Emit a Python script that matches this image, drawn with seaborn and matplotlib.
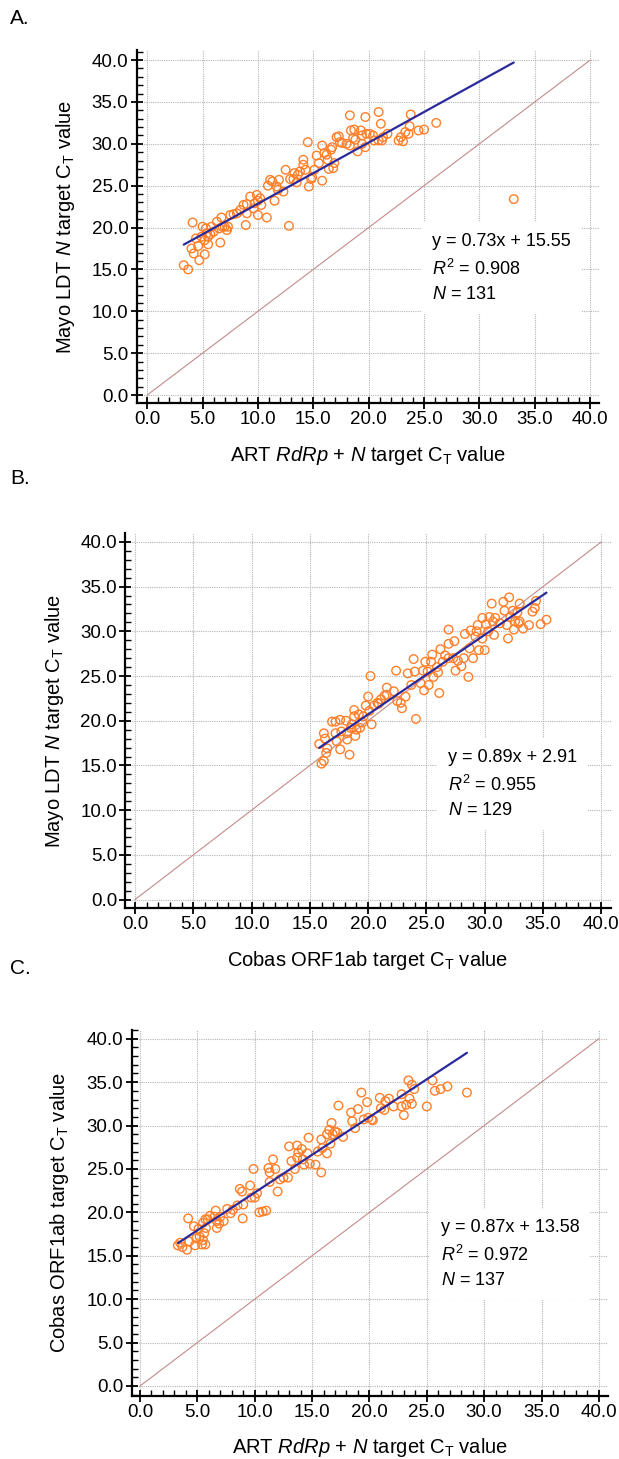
import numpy as np
import pandas as pd
import seaborn as sns
import matplotlib.pyplot as plt
from matplotlib.ticker import MultipleLocator, FormatStrFormatter

# ---- data (x, y pairs) ----
art_a = [3.3, 3.7, 4.1, 4.0, 4.2, 4.6, 4.7, 5.0, 5.2, 5.3, 5.4, 5.5, 5.2, 5.7, 5.8, 6.3, 6.5, 6.6, 6.7, 6.8,
         7.2, 7.3, 7.5, 7.8, 8.4, 8.7, 8.9, 9.0, 9.3, 9.6, 9.9, 10.0, 10.0, 10.3, 10.8, 10.9, 11.1, 11.3, 11.5, 11.7,
         11.9, 12.3, 12.5, 12.8, 12.9, 13.3, 13.5, 13.8, 14.1, 14.1, 14.3, 14.5, 14.6, 14.8, 15.1, 15.3, 15.8, 15.8, 16.0, 16.3,
         16.4, 16.6, 16.7, 16.8, 17.1, 17.3, 17.6, 18.3, 18.3, 18.4, 18.7, 18.6, 19.0, 19.3, 19.4, 19.7, 19.7, 19.8, 20.1, 20.4,
         20.9, 21.1, 20.9, 21.3, 21.7, 22.7, 23.8, 23.7, 23.6, 23.3, 23.1, 22.9, 24.5, 25.0, 26.1, 33.1,
         4.4, 4.9, 5.5, 6.0, 7.0, 8.1, 9.0, 9.7, 10.2, 11.8, 13.2, 13.6, 14.9, 15.5, 16.2, 16.9, 17.4, 18.0, 18.8, 19.4,
         20.5, 21.2]
mayo_a = [15.5, 15.0, 20.6, 17.5, 16.9, 17.8, 16.1, 20.1, 18.5, 19.9, 19.3, 18.0, 16.8, 19.2, 20.1, 20.7, 19.9, 18.2, 21.2, 20.1,
          19.7, 20.1, 21.5, 21.6, 22.1, 22.7, 20.3, 21.7, 23.7, 22.3, 23.9, 21.5, 23.2, 22.7, 21.2, 25.0, 25.7, 25.5, 23.2, 24.9,
          25.7, 24.3, 26.9, 20.2, 25.8, 26.5, 25.4, 26.7, 28.1, 27.5, 26.9, 30.2, 24.9, 25.8, 26.9, 28.6, 29.8, 25.6, 28.9, 28.1,
          27.0, 29.3, 29.6, 27.1, 30.8, 30.9, 30.1, 33.4, 29.8, 31.6, 31.7, 30.7, 29.1, 31.6, 31.0, 33.2, 29.6, 31.2, 31.2, 31.0,
          33.8, 32.4, 30.4, 30.8, 31.2, 30.4, 33.5, 32.1, 31.2, 31.4, 30.3, 30.8, 31.6, 31.7, 32.5, 23.4,
          18.7, 18.9, 18.9, 19.5, 20.1, 21.7, 22.8, 22.9, 23.5, 24.5, 25.8, 26.3, 26.0, 27.7, 28.7, 27.7, 30.2, 30.0, 30.5, 30.0,
          30.4, 30.4]

cobas_b = [15.8, 16.0, 16.2, 16.2, 16.3, 16.5, 16.9, 17.2, 17.2, 17.3, 17.6, 17.6, 18.1, 18.2, 18.4, 18.2, 18.6, 18.8, 18.8, 18.9,
           19.0, 19.2, 19.3, 19.5, 19.8, 20.0, 20.1, 20.2, 20.3, 20.5, 20.8, 21.1, 21.6, 21.6, 22.2, 22.4, 22.5, 22.8, 22.9, 23.2,
           23.4, 23.9, 24.0, 24.1, 24.5, 24.7, 24.8, 24.9, 25.2, 25.4, 25.5, 25.6, 26.0, 26.1, 26.2, 26.4, 26.9, 26.9, 26.9, 27.4,
           27.5, 27.7, 28.0, 28.2, 28.3, 28.6, 28.7, 28.8, 29.0, 29.2, 29.4, 29.5, 29.8, 29.8, 30.0, 30.1, 30.4, 30.6, 30.7, 30.8,
           30.9, 31.3, 31.6, 31.7, 31.9, 32.0, 32.1, 32.2, 32.5, 32.6, 32.9, 33.0, 33.0, 33.3, 33.8, 34.1, 34.3, 34.4, 34.8, 35.3,
           16.4, 17.7, 18.5, 19.6, 20.9, 21.4, 23.7, 25.1, 25.9, 26.6, 27.3, 29.3, 30.3, 32.4, 32.8]
mayo_b = [17.4, 15.2, 15.5, 18.6, 18.0, 16.9, 19.9, 19.9, 18.6, 17.7, 20.1, 16.8, 20.0, 17.9, 16.2, 18.6, 19.6, 21.2, 20.5, 18.3,
          19.0, 20.7, 19.2, 19.8, 21.7, 22.7, 21.1, 25.0, 19.6, 21.7, 22.0, 22.4, 23.7, 22.9, 23.3, 25.6, 22.2, 22.0, 21.4, 22.7,
          25.3, 26.9, 25.5, 20.2, 24.2, 25.6, 23.4, 26.6, 24.0, 26.6, 27.4, 24.9, 25.4, 23.1, 28.0, 26.6, 28.6, 30.2, 27.0, 28.9,
          25.6, 26.7, 26.1, 27.0, 29.7, 24.9, 28.1, 30.1, 27.0, 29.4, 30.7, 27.9, 31.5, 29.2, 27.9, 30.8, 31.6, 33.1, 31.1, 29.6,
          31.5, 30.9, 33.3, 32.3, 30.7, 29.2, 33.8, 31.6, 30.2, 31.1, 30.9, 33.1, 31.1, 30.3, 30.7, 32.2, 32.6, 33.4, 30.8, 31.3,
          16.4, 18.8, 19.2, 20.5, 21.9, 22.8, 24.0, 25.5, 26.0, 27.3, 27.0, 30.0, 30.0, 32.3, 32.1]

art_c = [3.3, 3.7, 4.1, 4.2, 4.3, 4.7, 4.8, 4.9, 5.1, 5.4, 5.5, 5.6, 5.5, 5.7, 5.9, 5.75, 5.7, 6.6, 6.7, 6.7,
         6.9, 7.3, 7.6, 7.9, 8.5, 8.7, 8.9, 9.0, 8.95, 9.6, 9.7, 9.9, 10.0, 10.2, 10.4, 10.7, 11.0, 11.2, 11.3, 11.3,
         11.6, 11.8, 12.0, 12.2, 12.5, 12.9, 13.0, 13.2, 13.5, 13.7, 13.7, 13.8, 14.1, 14.2, 14.3, 14.6, 14.7, 14.8, 15.3, 15.5,
         15.8, 15.8, 15.9, 16.3, 16.3, 16.5, 16.6, 16.7, 16.8, 17.0, 17.2, 17.3, 17.7, 18.4, 18.5, 18.75, 19.0, 19.3, 19.5, 19.8,
         19.9, 20.2, 20.3, 20.9, 21.0, 21.3, 21.4, 21.7, 22.1, 22.8, 22.8, 23.0, 23.2, 23.4, 23.5, 23.7, 23.7, 23.9, 25.0, 25.5,
         25.7, 26.2, 26.8, 28.5, 3.5, 5.2, 6.1, 6.5, 7.0, 8.1]
cobas_c = [16.2, 16.0, 15.7, 19.3, 16.65, 18.4, 16.2, 17.0, 18.1, 16.3, 16.8, 17.6, 18.8, 19.2, 19.2, 18.2, 16.3, 20.2, 19.0, 18.2,
           18.7, 19.0, 20.4, 19.9, 20.8, 22.7, 22.4, 20.9, 19.3, 23.1, 21.7, 25.0, 21.7, 22.2, 20.0, 20.1, 20.2, 25.1, 23.5, 24.6,
           26.1, 25.0, 22.4, 23.8, 24.0, 24.0, 27.6, 25.9, 25.0, 27.7, 26.3, 26.9, 27.3, 26.1, 25.5, 26.8, 28.6, 25.6, 25.5, 27.0,
           24.6, 28.4, 27.4, 26.8, 29.0, 29.5, 27.9, 30.3, 29.0, 29.3, 29.2, 32.3, 28.7, 31.5, 30.5, 29.7, 31.9, 33.8, 30.7, 32.7,
           30.9, 30.7, 30.6, 33.2, 32.0, 31.8, 32.8, 33.1, 32.2, 33.6, 32.2, 31.2, 32.4, 35.2, 33.1, 34.7, 32.5, 34.2, 32.2, 35.2,
           34.0, 34.2, 34.5, 33.8, 16.5, 17.2, 19.6, 19.5, 19.5, 20.3]

fit_slope = [0.73, 0.89, 0.87]
fit_intercept = [15.55, 2.91, 13.58]
r_squared = ["0.908", "0.955", "0.972"]
n_samples = [131, 129, 137]
identity_range = [0.0, 40.0]

panel_tags = ["A.", "B.", "C."]
x_titles = ["ART $\\mathit{RdRp}$ + $\\mathit{N}$ target C$_\\mathregular{T}$ value",
            "Cobas ORF1ab target C$_\\mathregular{T}$ value",
            "ART $\\mathit{RdRp}$ + $\\mathit{N}$ target C$_\\mathregular{T}$ value"]
y_titles = ["Mayo LDT $\\mathit{N}$ target C$_\\mathregular{T}$ value",
            "Mayo LDT $\\mathit{N}$ target C$_\\mathregular{T}$ value",
            "Cobas ORF1ab target C$_\\mathregular{T}$ value"]

sns.set_style("white")
plt.rcParams["font.family"] = ["Liberation Sans", "DejaVu Sans"]
plt.rcParams["mathtext.fontset"] = "custom"
plt.rcParams["mathtext.rm"] = "Liberation Sans"
plt.rcParams["mathtext.it"] = "Liberation Sans:italic"
plt.rcParams["text.color"] = "black"
plt.rcParams["axes.labelcolor"] = "black"
plt.rcParams["xtick.color"] = "black"
plt.rcParams["ytick.color"] = "black"

orange = "#ff7f2a"
navy = "#2a2a9c"
rose = "#c48a8a"

fig = plt.figure(figsize=(6.19, 14.59), dpi=100)

# axes boxes [left, bottom, width, height] in figure fraction
boxes = [[0.2208, 0.7238, 0.7469, 0.2419],
         [0.2027, 0.3776, 0.7837, 0.2568],
         [0.2128, 0.0435, 0.7695, 0.2505]]
xlims = [(-0.95, 40.8), (-0.82, 40.8), (-0.72, 40.8)]
ylims = [(-0.95, 41.2), (-0.95, 40.95), (-1.1, 41.0)]
ylab_x = [-0.129, -0.123, -0.127]
text_pos = [(0.638, 0.482), (0.664, 0.425), (0.649, 0.482)]
tag_y = [18.5, 478, 968]

datasets = [(art_a, mayo_a), (cobas_b, mayo_b), (art_c, cobas_c)]

for i, (xs, ys) in enumerate(datasets):
    ax = fig.add_axes(boxes[i])
    df = pd.DataFrame({"x": xs, "y": ys})

    ax.grid(True, which="major", color="#b5b5b5", linestyle=(0, (1, 1)), linewidth=0.8)
    ax.set_axisbelow(True)

    sns.lineplot(x=identity_range, y=identity_range, ax=ax, color=rose, linewidth=0.8, zorder=2)
    sns.scatterplot(data=df, x="x", y="y", ax=ax, marker="o", s=38,
                    facecolor="none", edgecolor=orange, linewidth=1.0, zorder=3)
    fx = np.array([df.x.min(), df.x.max()])
    sns.lineplot(x=fx, y=fit_slope[i] * fx + fit_intercept[i], ax=ax, color=navy, linewidth=1.6, zorder=4)

    ax.set_xlim(*xlims[i])
    ax.set_ylim(*ylims[i])
    ax.xaxis.set_major_locator(MultipleLocator(5))
    ax.yaxis.set_major_locator(MultipleLocator(5))
    ax.xaxis.set_minor_locator(MultipleLocator(1))
    ax.yaxis.set_minor_locator(MultipleLocator(1))
    ax.xaxis.set_major_formatter(FormatStrFormatter("%.1f"))
    ax.yaxis.set_major_formatter(FormatStrFormatter("%.1f"))
    ax.tick_params(which="major", direction="inout", length=8, width=1.3, labelsize=13.5, pad=2, color="black")
    ax.tick_params(which="minor", direction="in", length=4, width=1.0, color="black")
    ax.tick_params(axis="x", which="both", bottom=True)
    ax.tick_params(axis="y", which="both", left=True)

    for side in ["top", "right"]:
        ax.spines[side].set_visible(False)
    for side in ["left", "bottom"]:
        ax.spines[side].set_color("black")
        ax.spines[side].set_linewidth(1.6)

    ax.set_xlabel(x_titles[i], fontsize=14.5, labelpad=11)
    ax.set_ylabel(y_titles[i], fontsize=14.5)
    ax.yaxis.set_label_coords(ylab_x[i], 0.5)

    stats = (f"y = {fit_slope[i]:.2f}x + {fit_intercept[i]:.2f}\n"
             f"$\\mathit{{R}}^\\mathregular{{2}}$ = {r_squared[i]}\n"
             f"$\\mathit{{N}}$ = {n_samples[i]}")
    ax.text(text_pos[i][0], text_pos[i][1], stats, transform=ax.transAxes, fontsize=13,
            ha="left", va="top", linespacing=1.55, zorder=5,
            bbox=dict(boxstyle="square,pad=0.6", facecolor="white", edgecolor="none"))

    fig.text(10 / 619, 1 - tag_y[i] / 1459, panel_tags[i], fontsize=15, ha="left", va="center")

fig.savefig("out.png", dpi=100)
